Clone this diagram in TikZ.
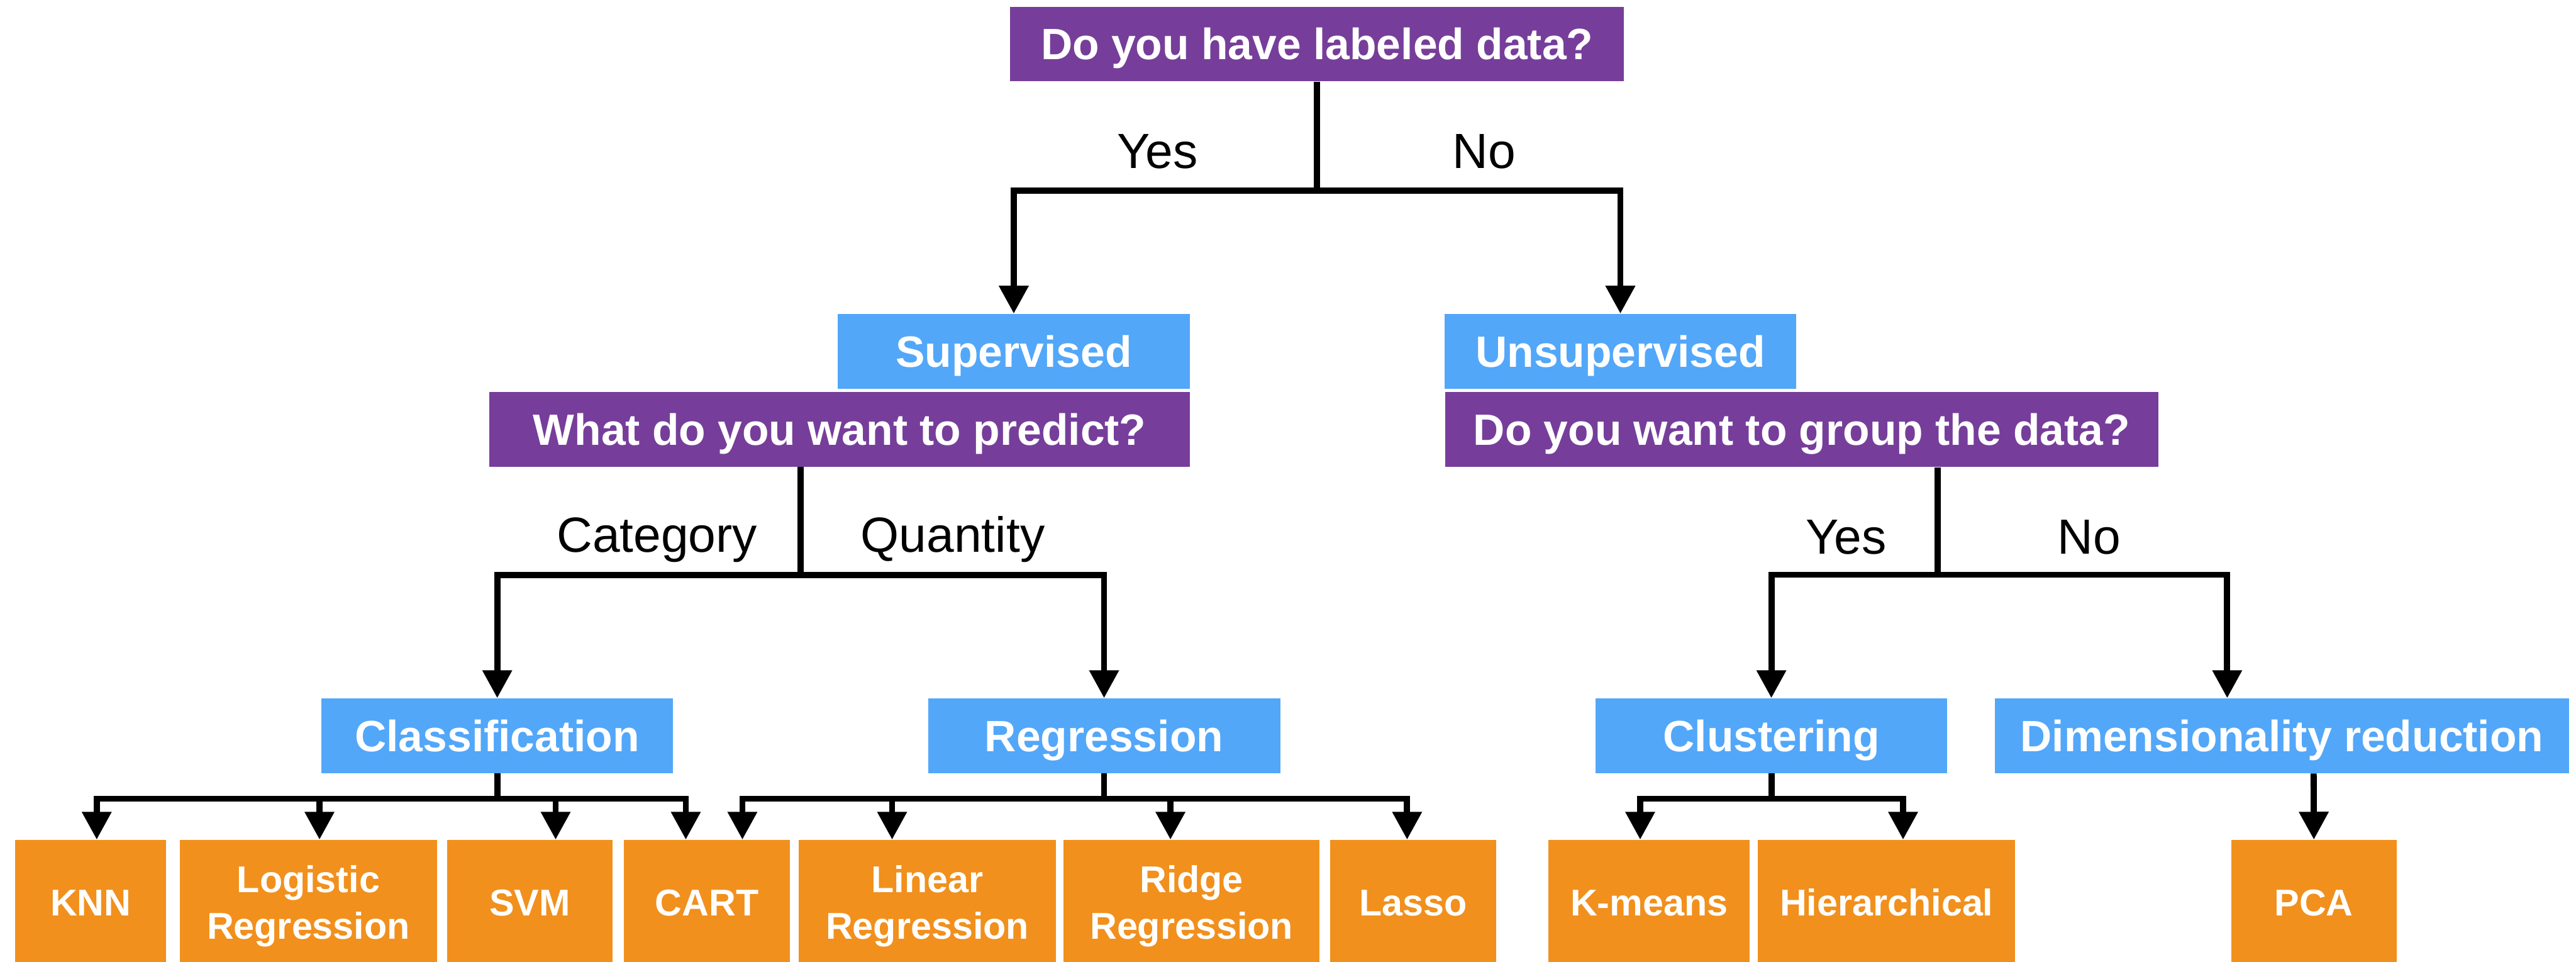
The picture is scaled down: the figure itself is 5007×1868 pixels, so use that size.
\documentclass[tikz,border=0pt]{standalone}
\usepackage{fontspec}
\setmainfont{Liberation Sans}
\usetikzlibrary{arrows.meta}
\definecolor{askpurple}{RGB}{118,62,154}
\definecolor{kindblue}{RGB}{82,167,249}
\definecolor{algoorange}{RGB}{241,144,29}
\begin{document}
\begin{tikzpicture}[x=0.01cm,y=-0.01cm,inner sep=0,
		box/.style={text=white,font=\fontsize{24.2}{29}\selectfont\bfseries,
			minimum height=1.45cm,text height=0.61cm,text depth=0pt},
		ask/.style={box,fill=askpurple},
		kind/.style={box,fill=kindblue},
		algo/.style={fill=algoorange,text=white,align=center,
			font=\fontsize{20.6}{25.9}\selectfont\bfseries,
			minimum height=2.42cm,text height=0.52cm,text depth=0pt},
		two/.style={text height=1.43cm},
		ans/.style={anchor=base,font=\fontsize{27.3}{32}\selectfont},
		link/.style={line width=0.12cm,-{Triangle[length=0.54cm,width=0.55cm]}}]
		\useasboundingbox (0,0) rectangle (5007,1868);
		\node[ask,minimum width=11.92cm] (root) at (2560,85.5) {Do you have labeled data?};
		\node[kind,minimum width=6.83cm] (sup) at (1970.5,682.5) {Supervised};
		\node[kind,minimum width=6.83cm] (unsup) at (3149.5,682.5) {Unsupervised};
		\node[ask,minimum width=13.6cm] (pred) at (1632,834) {What do you want to predict?};
		\node[ask,minimum width=13.86cm] (group) at (3502,834.5) {Do you want to group the data?};
		\node[kind,minimum width=6.83cm] (clf) at (966.5,1429.5) {Classification};
		\node[kind,minimum width=6.84cm] (reg) at (2146,1429.5) {Regression};
		\node[kind,minimum width=6.82cm] (clu) at (3443,1429.5) {Clustering};
		\node[kind,minimum width=11.15cm] (dim) at (4435.5,1429.5) {Dimensionality reduction};
		\node[algo,minimum width=2.93cm] (knn) at (176.5,1753) {KNN};
		\node[algo,two,minimum width=4.99cm] (logit) at (599.5,1753) {Logistic\\Regression};
		\node[algo,minimum width=3.22cm] (svm) at (1030,1753) {SVM};
		\node[algo,minimum width=3.22cm] (cart) at (1374,1753) {CART};
		\node[algo,two,minimum width=4.99cm] (linreg) at (1802.5,1753) {Linear\\Regression};
		\node[algo,two,minimum width=4.98cm] (ridge) at (2316,1753) {Ridge\\Regression};
		\node[algo,minimum width=3.23cm] (lasso) at (2746.5,1753) {Lasso};
		\node[algo,minimum width=3.91cm] (kmeans) at (3205.5,1753) {K-means};
		\node[algo,minimum width=5cm] (hier) at (3667,1753) {Hierarchical};
		\node[algo,minimum width=3.21cm] (pca) at (4497.5,1753) {PCA};
		\node[ans] (yes1) at (2250,327) {Yes};
		\node[ans] (no1) at (2885,327) {No};
		\node[ans] (catg) at (1277,1073) {Category};
		\node[ans] (quant) at (1852,1073) {Quantity};
		\node[ans] (yes2) at (3588,1076) {Yes};
		\node[ans] (no2) at (4061,1076) {No};
		\draw[link] (root.south) -- ++(0,212) -| (sup.north);
		\draw[link] (root.south) -- ++(0,212) -| (unsup.north);
		\draw[link] (1556,0 |- pred.south) -- ++(0,210) -| (clf.north);
		\draw[link] (1556,0 |- pred.south) -- ++(0,210) -| (reg.north);
		\draw[link] (3766,0 |- group.south) -- ++(0,209) -| (clu.north);
		\draw[link] (3766,0 |- group.south) -- ++(0,209) -| (4329,0 |- dim.north);
		\foreach \x/\t in {188/knn,621/logit,1080/svm,1333/cart}
			\draw[link] (clf.south) -- ++(0,49) -| (\x,0 |- \t.north);
		\foreach \x/\t in {1443/cart,1734/linreg,2275/ridge,2735/lasso}
			\draw[link] (reg.south) -- ++(0,49) -| (\x,0 |- \t.north);
		\foreach \x/\t in {3188/kmeans,3699/hier}
			\draw[link] (clu.south) -- ++(0,49) -| (\x,0 |- \t.north);
		\draw[link] (4497,0 |- dim.south) -- (pca.north);
\end{tikzpicture}
\end{document}
